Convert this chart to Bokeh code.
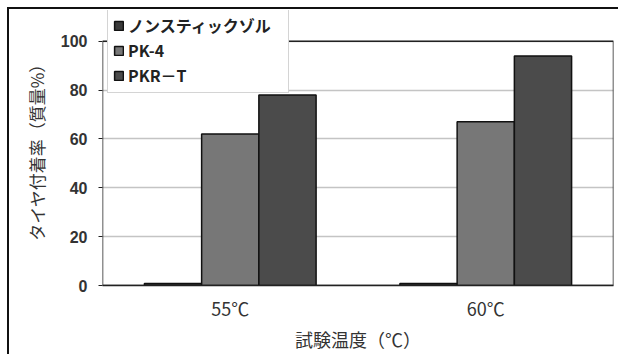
from bokeh.plotting import figure
from bokeh.models import ColumnDataSource, FactorRange, Legend, LegendItem, SingleIntervalTicker
from bokeh.transform import dodge
from bokeh.embed import file_html
from bokeh.resources import INLINE

temps = ["55℃", "60℃"]
series = ["ノンスティックゾル", "PK-4", "PKR－T"]
nonstick = [0.8, 0.8]
pk4 = [62, 67]
pkrt = [78, 94]
colors = ["#3a3a3a", "#777777", "#4b4b4b"]
y_ticks_max = 100

src = ColumnDataSource(dict(temp=temps, a=nonstick, b=pk4, c=pkrt))

outer_bg = ("linear-gradient(#111,#111) 7px 7px / 2px 100% no-repeat, "
            "linear-gradient(#111,#111) 7px 7px / 100% 2px no-repeat, white")

p = figure(width=618, height=354, x_range=FactorRange(*temps), y_range=(0, 112.6),
           output_backend="svg", toolbar_location=None,
           min_border_left=102, min_border_top=10, min_border_right=5, min_border_bottom=67,
           styles={"background": outer_bg})
p.border_fill_alpha = 0
p.background_fill_alpha = 0

p.outline_line_color = None
p.xgrid.grid_line_color = None
p.ygrid.grid_line_color = "#c4c4c4"
p.ygrid.grid_line_width = 1.5

# plot-area border (0..100 on y, full category span on x)
p.quad(left=[0], right=[len(temps)], bottom=[0], top=[y_ticks_max],
       fill_alpha=0, line_color="#222222", line_width=1.5)

offs = [-0.224, 0.0, 0.224]
renderers = []
for key, off, col in zip(["a", "b", "c"], offs, colors):
    r = p.vbar(x=dodge("temp", off, range=p.x_range), top=key, width=0.224, source=src,
               fill_color=col, line_color="#111111", line_width=1.5)
    renderers.append(r)

legend = Legend(items=[LegendItem(label=s, renderers=[r]) for s, r in zip(series, renderers)],
                location=(5, 192), orientation="vertical",
                label_text_font="Noto Sans CJK JP", label_text_font_size="16px",
                label_text_color="#222222", label_text_font_style="bold",
                glyph_width=11, glyph_height=11, spacing=1, padding=5, margin=0,
                label_height=23, label_width=155, label_standoff=4,
                border_line_color="#aaaaaa", border_line_width=1.5,
                background_fill_color="white", background_fill_alpha=1)
p.add_layout(legend, "center")

p.yaxis.ticker = SingleIntervalTicker(interval=20)
p.yaxis.major_label_text_font = "Liberation Sans"
p.yaxis.major_label_text_font_style = "bold"
p.yaxis.major_label_text_font_size = "16px"
p.yaxis.major_label_text_color = "#333333"
p.yaxis.major_tick_out = 4
p.yaxis.major_tick_in = 0
p.yaxis.major_tick_line_color = "#222222"
p.yaxis.minor_tick_line_color = None
p.yaxis.major_label_standoff = 11
p.yaxis.axis_line_color = None
p.yaxis.axis_label = "タイヤ付着率（質量%）"
p.yaxis.axis_label_text_font = "Noto Sans CJK JP"
p.yaxis.axis_label_text_font_size = "17px"
p.yaxis.axis_label_text_font_style = "normal"
p.yaxis.axis_label_text_color = "#333333"
p.yaxis.axis_label_standoff = 9

p.xaxis.major_label_text_font = "Noto Sans CJK JP"
p.xaxis.major_label_text_font_size = "18px"
p.xaxis.major_label_text_color = "#333333"
p.xaxis.major_tick_line_color = None
p.xaxis.major_tick_out = 0
p.xaxis.minor_tick_line_color = None
p.xaxis.major_label_standoff = 9
p.xaxis.axis_line_color = "#222222"
p.xaxis.axis_line_width = 1.5
p.xaxis.axis_label = "試験温度（℃）"
p.xaxis.axis_label_text_font = "Noto Sans CJK JP"
p.xaxis.axis_label_text_font_size = "18px"
p.xaxis.axis_label_text_font_style = "normal"
p.xaxis.axis_label_text_color = "#333333"
p.xaxis.axis_label_standoff = 2

open("out.html", "w").write(file_html(p, INLINE))
